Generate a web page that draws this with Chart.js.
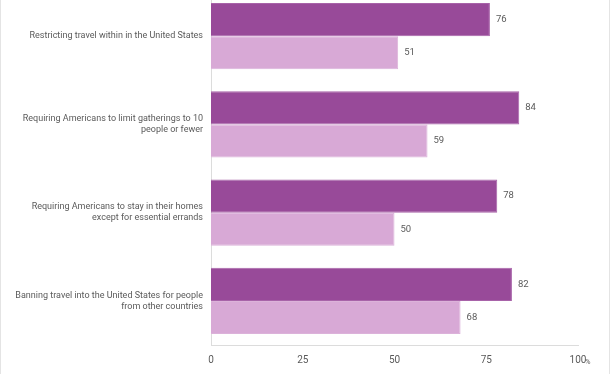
<!DOCTYPE html>
<html>
<head>
<meta charset="utf-8">
<script src="https://cdn.jsdelivr.net/npm/chart.js@4"></script>
<style>
  html, body { margin: 0; padding: 0; background: #fff; }
  #wrap { width: 612px; height: 374px; position: relative; overflow: hidden; }
  #chart { position: absolute; left: 0; top: -8px; }
</style>
</head>
<body>
<div id="wrap"><canvas id="chart" width="612" height="392"></canvas></div>
<script>
const categories = [
  "Restricting travel within in the United States",
  ["Requiring Americans to limit gatherings to 10", "people or fewer"],
  ["Requiring Americans to stay in their homes", "except for essential errands"],
  ["Banning travel into the United States for people", "from other countries"]
];
const seriesDark = [76, 84, 78, 82];
const seriesLight = [51, 59, 50, 68];
const xTicks = [0, 25, 50, 75, 100];

const textColor = "#5a5a5a";
const fontFamily = "Roboto, 'Noto Sans', sans-serif";

// value labels at the end of each bar
const valueLabels = {
  id: "valueLabels",
  afterDatasetsDraw(chart) {
    const ctx = chart.ctx;
    ctx.save();
    ctx.font = "9.5px " + fontFamily;
    ctx.fillStyle = textColor;
    ctx.textBaseline = "middle";
    ctx.textAlign = "left";
    chart.data.datasets.forEach((ds, i) => {
      chart.getDatasetMeta(i).data.forEach((bar, j) => {
        ctx.fillText(ds.data[j], bar.x + 6, bar.y);
      });
    });
    ctx.restore();
  }
};

// small % after the last tick + side frame lines
const extras = {
  id: "extras",
  afterDraw(chart) {
    const ctx = chart.ctx;
    const x = chart.scales.x;
    ctx.save();
    ctx.font = "7.5px " + fontFamily;
    ctx.fillStyle = textColor;
    ctx.textBaseline = "middle";
    ctx.textAlign = "left";
    ctx.fillText("%", x.getPixelForValue(100) + 7, chart.chartArea.bottom + 17);
    ctx.strokeStyle = "#e4e4e4";
    ctx.lineWidth = 1;
    ctx.beginPath();
    ctx.moveTo(0.5, 0); ctx.lineTo(0.5, 392);
    ctx.moveTo(609.5, 0); ctx.lineTo(609.5, 392);
    ctx.stroke();
    ctx.restore();
  }
};

new Chart(document.getElementById("chart"), {
  type: "bar",
  data: {
    labels: categories,
    datasets: [
      {
        data: seriesDark,
        backgroundColor: "#984a99",
        borderColor: "#a863a9",
        borderWidth: 1,
        categoryPercentage: 0.75,
        barPercentage: 1
      },
      {
        data: seriesLight,
        backgroundColor: "#d8a9d6",
        borderColor: "#dcb2da",
        borderWidth: 1,
        categoryPercentage: 0.75,
        barPercentage: 1
      }
    ]
  },
  options: {
    indexAxis: "y",
    responsive: false,
    animation: false,
    layout: { padding: { top: 0, right: 34, left: 4, bottom: 9 } },
    plugins: {
      legend: { display: false },
      tooltip: { enabled: false }
    },
    scales: {
      x: {
        min: 0,
        max: 100,
        afterBuildTicks(scale) {
          scale.ticks = xTicks.map(v => ({ value: v }));
        },
        grid: { display: false, drawTicks: false },
        border: { color: "#dcdcdc" },
        ticks: {
          color: textColor,
          font: { family: fontFamily, size: 10 },
          padding: 9,
          maxRotation: 0
        }
      },
      y: {
        grid: { display: false, drawTicks: false },
        border: { color: "#dcdcdc" },
        afterFit(scale) {
          scale.width = 207;
          scale.paddingTop = 0;
          scale.paddingBottom = 0;
        },
        ticks: {
          color: textColor,
          font: { family: fontFamily, size: 9 },
          padding: 8
        }
      }
    }
  },
  plugins: [valueLabels, extras]
});
</script>
</body>
</html>
